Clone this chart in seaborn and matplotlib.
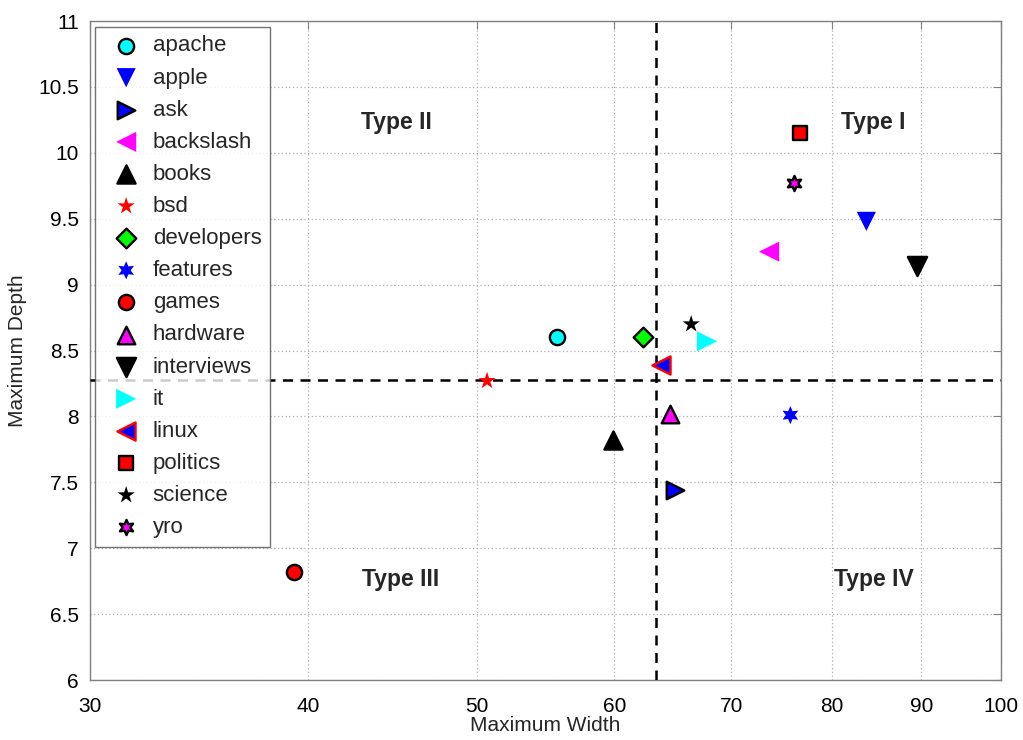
import matplotlib
matplotlib.use("Agg")
import matplotlib.pyplot as plt
import seaborn as sns
from matplotlib.ticker import FixedLocator, NullLocator, FixedFormatter

sns.set_theme(style="white")
plt.rcParams['font.family'] = ['Liberation Sans', 'DejaVu Sans']

names = ["apache", "apple", "ask", "backslash", "books", "bsd", "developers",
         "features", "games", "hardware", "interviews", "it", "linux",
         "politics", "science", "yro"]
max_width = [55.6, 83.7, 65.0, 73.6, 59.9, 50.7, 62.3, 75.7, 39.3, 64.6,
             89.5, 67.8, 63.8, 76.7, 66.4, 76.1]
max_depth = [8.60, 9.48, 7.44, 9.25, 7.82, 8.27, 8.60, 8.01, 6.82, 8.02,
             9.14, 8.57, 8.39, 10.15, 8.70, 9.77]
markers = ["o", "v", ">", "<", "^", "*", "D", (6, 1, 0), "o", "^", "v", ">",
           "<", "s", "*", (6, 1, 0)]
faces = ["#00ffff", "#0000ff", "#0000ff", "#ff00ff", "#000000", "#ff0000",
         "#00ff00", "#0000ff", "#ff0000", "#ff00ff", "#000000", "#00ffff",
         "#0000ff", "#ff0000", "#000000", "#ff00ff"]
edges = ["#000000", "none", "#000000", "none", "#000000", "none", "#000000",
         "none", "#000000", "#000000", "#000000", "none", "#ff0000",
         "#000000", "none", "#000000"]
sizes = [120, 190, 160, 210, 170, 170, 100, 170, 120, 160, 190, 210, 170,
         100, 170, 120]

x_split = 63.4
y_split = 8.28
quad_labels = ["Type II", "Type I", "Type III", "Type IV"]
quad_x = [45.0, 84.5, 45.2, 84.5]
quad_y = [10.23, 10.23, 6.76, 6.76]
xticks = [30, 40, 50, 60, 70, 80, 90, 100]
yticks = [6, 6.5, 7, 7.5, 8, 8.5, 9, 9.5, 10, 10.5, 11]

fig = plt.figure(figsize=(10.23, 7.40), dpi=100)
ax = fig.add_axes([0.088, 0.081, 0.8905, 0.8906])

for n, xv, yv, m, fc, ec, s in zip(names, max_width, max_depth, markers, faces, edges, sizes):
    lw = 1.7 if ec != "none" else 0
    sns.scatterplot(x=[xv], y=[yv], marker=m, s=s, color=fc, edgecolor=ec,
                    linewidth=lw, label=n, ax=ax, zorder=5)

ax.set_xscale("log")
ax.set_xlim(30, 100)
ax.set_ylim(6, 11)
ax.xaxis.set_major_locator(FixedLocator(xticks))
ax.xaxis.set_major_formatter(FixedFormatter([str(t) for t in xticks]))
ax.xaxis.set_minor_locator(NullLocator())
ax.set_yticks(yticks)
ax.set_yticklabels([f"{t:g}" for t in yticks])

ax.axvline(x_split, color="black", lw=1.8, ls=(0, (4, 3)), zorder=3)
ax.axhline(y_split, color="black", lw=1.8, ls=(0, (4, 3)), zorder=3)

for t, xv, yv in zip(quad_labels, quad_x, quad_y):
    ax.text(xv, yv, t, fontsize=16.5, fontweight="bold", ha="center", va="center")

ax.grid(True, which="major", color="#b0b0b0", ls=(0, (1, 2)), lw=0.9)
for sp in ax.spines.values():
    sp.set_color("#808080")
    sp.set_linewidth(1.0)
ax.tick_params(direction="in", length=6, width=0.8, color="#808080",
               top=True, right=True, labelsize=15, labelcolor="black")
ax.tick_params(axis="x", pad=12)
ax.tick_params(axis="y", pad=8)
ax.set_xlabel("Maximum Width", fontsize=15, labelpad=0)
ax.set_ylabel("Maximum Depth", fontsize=15, labelpad=8)

leg = ax.legend(loc="upper left", bbox_to_anchor=(0.006, 0.991), borderaxespad=0,
                fontsize=16, frameon=True, fancybox=False, edgecolor="#505050",
                labelspacing=0.5, handletextpad=0.2, borderpad=0.38,
                handlelength=2.0)
leg.get_frame().set_linewidth(1.0)

fig.savefig("out.png", dpi=100)
